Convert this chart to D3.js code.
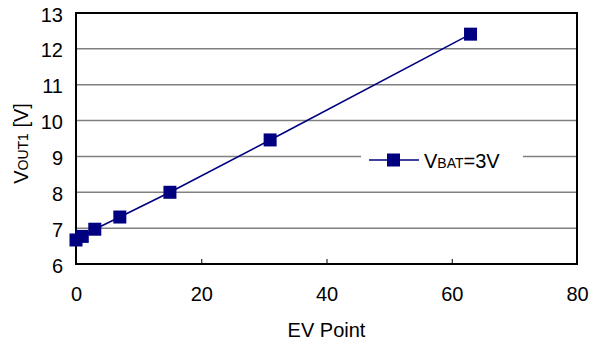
<!DOCTYPE html>
<html>
<head>
<meta charset="utf-8">
<script src="https://cdn.jsdelivr.net/npm/d3@7"></script>
<style>
  body { margin: 0; background: #fff; }
  text { font-family: "Liberation Sans", Arial, sans-serif; fill: #000; }
</style>
</head>
<body>
<script>
// data
var evPoints = [0, 1, 3, 7, 15, 31, 63];
var vout = [6.67, 6.77, 6.97, 7.31, 8.0, 9.46, 12.41];
var xTicks = [0, 20, 40, 60, 80];
var yTicks = [6, 7, 8, 9, 10, 11, 12, 13];
var seriesName = "=3V";

var margin = { top: 13, right: 14, bottom: 81, left: 76 },
    width = 591 - margin.left - margin.right,
    height = 345 - margin.top - margin.bottom;

var data = evPoints.map(function (x, i) { return { x: x, y: vout[i] }; });

var xScale = d3.scaleLinear().domain([0, 80]).range([0, width]),
    yScale = d3.scaleLinear().domain([6, 13]).range([height, 0]);

var svg = d3.select("body").append("svg")
    .attr("width", 591)
    .attr("height", 345)
    .append("g")
    .attr("transform", "translate(" + margin.left + "," + margin.top + ")");

// gridlines
svg.append("g")
    .selectAll("line")
    .data(yTicks.slice(1, -1))
    .enter().append("line")
    .attr("x1", 0).attr("x2", width)
    .attr("y1", function (d) { return yScale(d); })
    .attr("y2", function (d) { return yScale(d); })
    .attr("stroke", "#808080")
    .attr("stroke-width", 1.5);

// x axis
var xAxis = svg.append("g")
    .attr("transform", "translate(0," + height + ")")
    .call(d3.axisBottom(xScale).tickValues(xTicks).tickSize(-5).tickPadding(23).tickFormat(d3.format("d")));
xAxis.select(".domain").remove();
xAxis.selectAll("line").attr("stroke", "#000");
xAxis.selectAll("text").style("font-size", "20px");
xAxis.attr("font-family", null);

// y axis
var yAxis = svg.append("g")
    .call(d3.axisLeft(yScale).tickValues(yTicks).tickSize(0).tickPadding(13).tickFormat(d3.format("d")));
yAxis.select(".domain").remove();
yAxis.selectAll("text").style("font-size", "20px").attr("dy", "0.4em");
yAxis.attr("font-family", null);

// frame
svg.append("rect")
    .attr("width", width).attr("height", height)
    .attr("fill", "none")
    .attr("stroke", "#000")
    .attr("stroke-width", 2);

// axis labels
svg.append("text")
    .attr("x", width / 2)
    .attr("y", height + 73)
    .attr("text-anchor", "middle")
    .style("font-size", "20px")
    .text("EV Point");

var yl = svg.append("text")
    .style("font-size", "20px");
yl.append("tspan").text("V");
yl.append("tspan").style("font-size", "14px").text("OUT1");
yl.append("tspan").text(" [V]");
// centre the rotated label on y = 143.5 (page), baseline at x = 28
var ylw = yl.node().getComputedTextLength();
yl.attr("transform", "translate(" + (28 - margin.left) + "," + (143.5 - margin.top + ylw / 2) + ") rotate(-90)");

// series line
var line = d3.line()
    .x(function (d) { return xScale(d.x); })
    .y(function (d) { return yScale(d.y); });

svg.append("path")
    .datum(data)
    .attr("fill", "none")
    .attr("stroke", "#000080")
    .attr("stroke-width", 1.6)
    .attr("d", line);

svg.selectAll(".pt")
    .data(data)
    .enter().append("rect")
    .attr("class", "pt")
    .attr("x", function (d) { return xScale(d.x) - 6.5; })
    .attr("y", function (d) { return yScale(d.y) - 6.5; })
    .attr("width", 13).attr("height", 13)
    .attr("fill", "#000080");

// legend
var lg = svg.append("g").attr("transform", "translate(" + (361 - margin.left) + "," + (160 - margin.top) + ")");
lg.append("rect")
    .attr("x", 0).attr("y", -15).attr("width", 162).attr("height", 30)
    .attr("fill", "#fff");
lg.append("line")
    .attr("x1", 8).attr("x2", 58).attr("y1", 0).attr("y2", 0)
    .attr("stroke", "#000080").attr("stroke-width", 1.6);
lg.append("rect")
    .attr("x", 26).attr("y", -6.5).attr("width", 13).attr("height", 13)
    .attr("fill", "#000080");
var lt = lg.append("text")
    .attr("x", 63).attr("y", 7.5)
    .style("font-size", "20px");
lt.append("tspan").text("V");
lt.append("tspan").style("font-size", "14px").text("BAT");
lt.append("tspan").text(seriesName);
</script>
</body>
</html>
